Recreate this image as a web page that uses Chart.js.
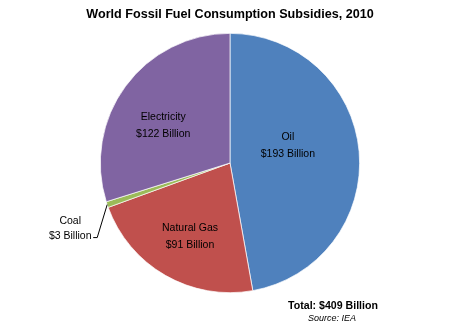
<!DOCTYPE html>
<html>
<head>
<meta charset="utf-8">
<script src="https://cdn.jsdelivr.net/npm/chart.js@4/dist/chart.umd.min.js"></script>
<style>
    html, body { margin: 0; padding: 0; background: #fff; }
    #wrap { width: 460px; height: 327px; }
</style>
</head>
<body>
<div id="wrap"><canvas id="pie"></canvas></div>
<script>
const kategoriler = ['Oil', 'Natural Gas', 'Coal', 'Electricity'];
const degerler = [193, 91, 3, 122];
const etiketler = ['$193 Billion', '$91 Billion', '$3 Billion', '$122 Billion'];
const renkler = ['#4F81BD', '#C0504D', '#9BBB59', '#8064A2'];
const toplamYazi = 'Total: $409 Billion';
const kaynakYazi = 'Source: IEA';

// slice labels, drawn with the arc geometry from the chart
const dilimEtiketleri = {
    id: 'dilimEtiketleri',
    afterDatasetsDraw(chart, args, opts) {
        const ctx = chart.ctx;
        const arcs = chart.getDatasetMeta(0).data;
        ctx.save();
        ctx.font = '10.5px "Liberation Sans", Arial, sans-serif';
        ctx.fillStyle = '#000';
        ctx.textAlign = 'center';
        ctx.textBaseline = 'middle';
        arcs.forEach((arc, i) => {
            const { x, y, startAngle, endAngle, outerRadius } = arc.getProps(['x', 'y', 'startAngle', 'endAngle', 'outerRadius'], true);
            const mid = (startAngle + endAngle) / 2;
            if (opts.disari[i]) {
                // outside label with leader line
                const ex = x + Math.cos(mid) * outerRadius;
                const ey = y + Math.sin(mid) * outerRadius;
                const lx = ex - 10, ly = ey + 33;
                ctx.strokeStyle = '#000';
                ctx.lineWidth = 1;
                ctx.beginPath();
                ctx.moveTo(ex, ey);
                ctx.lineTo(lx, ly);
                ctx.lineTo(lx - 4, ly);
                ctx.stroke();
                ctx.fillText(kategoriler[i], lx - 27, ly - 16);
                ctx.fillText(etiketler[i], lx - 27, ly - 1);
                return;
            }
            const r = outerRadius * opts.oran[i];
            const a = mid + opts.aci[i] * Math.PI / 180;
            const cx = x + Math.cos(a) * r;
            const cy = y + Math.sin(a) * r;
            ctx.fillText(kategoriler[i], cx, cy - 8.5);
            ctx.fillText(etiketler[i], cx, cy + 8.5);
        });

        // total and source under the pie
        ctx.font = 'bold 10.6px "Liberation Sans", Arial, sans-serif';
        ctx.fillText(toplamYazi, 333, 306);
        ctx.font = 'italic 9px "Liberation Sans", Arial, sans-serif';
        ctx.fillText(kaynakYazi, 332, 318);
        ctx.restore();
    }
};

new Chart(document.getElementById('pie'), {
    type: 'pie',
    data: {
        labels: kategoriler,
        datasets: [{
            data: degerler,
            backgroundColor: renkler,
            borderColor: '#ffffff',
            borderWidth: 0.7
        }]
    },
    options: {
        responsive: true,
        maintainAspectRatio: false,
        animation: false,
        layout: { padding: { top: 6, bottom: 34, left: 0, right: 0 } },
        plugins: {
            legend: { display: false },
            tooltip: { enabled: false },
            title: {
                display: true,
                text: 'World Fossil Fuel Consumption Subsidies, 2010',
                color: '#000',
                font: { family: '"Liberation Sans", Arial, sans-serif', size: 12.6, weight: 'bold', lineHeight: 1.2 },
                padding: { top: 0.5, bottom: 11.4 }
            },
            dilimEtiketleri: {
                oran: [0.466, 0.644, 0, 0.59],
                aci: [-11.7, -1.3, 0, -7.1],
                disari: [false, false, true, false]
            }
        }
    },
    plugins: [dilimEtiketleri]
});
</script>
</body>
</html>
